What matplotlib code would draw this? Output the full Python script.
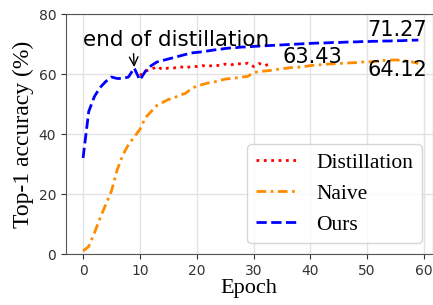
import numpy as np
import matplotlib
matplotlib.use("Agg")
from matplotlib import pyplot as plt

# values
epochs = list(range(60))
ours = [32, 47.5, 52.5, 55.5, 57.5, 59, 58.5, 58.5, 59, 62,
        58, 61, 62.8, 64, 64.5, 65, 65.5, 66, 66.5, 67,
        67.2, 67.4, 67.7, 68, 68.2, 68.5, 68.7, 68.8, 69, 69,
        69.2, 69.3, 69.4, 69.5, 69.6, 69.7, 69.8, 69.9, 70, 70.1,
        70.2, 70.3, 70.3, 70.4, 70.5, 70.5, 70.6, 70.7, 70.7, 70.8,
        70.8, 70.9, 70.9, 71, 71, 71.1, 71.1, 71.2, 71.27, 71.3]
naive = [1, 2.5, 7, 12, 16.5, 21, 28, 33, 36.5, 39,
         41.5, 45.5, 47.5, 49.5, 50.5, 51.5, 52, 53, 53.5, 55,
         56, 56.5, 57, 57.3, 57.8, 58.3, 58.5, 58.7, 59, 59.2,
         60.5, 60.8, 61, 61.2, 61.5, 61.7, 62, 62.2, 62.3, 62.5,
         62.8, 63, 63.1, 63.3, 63.4, 63.5, 63.6, 63.7, 63.8, 64,
         64, 64.1, 64.3, 64.5, 64.6, 64.7, 64.5, 64.3, 64.0, 63.5]
distill_epochs = list(range(10, 34))
distill = [59.5, 61, 61.5, 62.5, 61.5, 62, 62, 62.5, 62, 62.5,
           62.5, 62.8, 62.5, 63, 62.8, 63.3, 63, 63.5, 63.3, 63.6,
           62.5, 63.5, 62.8, 63.43]

fig = plt.figure(figsize=(4.33, 3.05), dpi=100)
ax = fig.add_axes([66 / 433, 1 - 254 / 305, (432.5 - 66) / 433, (254 - 14) / 305])

ax.plot(distill_epochs, distill, color="red", linestyle=":", linewidth=2, label="Distillation")
ax.plot(epochs, naive, color="darkorange", linestyle="-.", dashes=(3.5, 1.6, 1, 1.6),
        linewidth=2, label="Naive")
ax.plot(epochs, ours, color="blue", linestyle="--", linewidth=2, label="Ours")

ax.set_xlim(-3, 61.5)
ax.set_ylim(0, 80)
ax.set_xticks([0, 10, 20, 30, 40, 50, 60])
ax.set_yticks([0, 20, 40, 60, 80])
ax.grid(True, color="#e3e3e3", linewidth=1)
ax.set_axisbelow(True)
ax.tick_params(labelsize=10, colors="#333333", labelcolor="#333333")
for s in ax.spines.values():
    s.set_color("#555555")

ax.set_xlabel("Epoch", family="Liberation Serif", fontsize=16, labelpad=1)
ax.set_ylabel("Top-1 accuracy (%)", family="Liberation Serif", fontsize=17, labelpad=3)

# arrow drops straight down from under the text to the epoch-9 point
ax.annotate("end of distillation", xy=(9, 62.3), xytext=(0, 69.5),
            fontsize=15.5,
            arrowprops=dict(arrowstyle="->", color="black", relpos=(0.27, 0.0),
                            shrinkA=1, shrinkB=0))
ax.text(55.2, 74.7, "71.27", fontsize=15, ha="center", va="center")
ax.text(55.4, 61.3, "64.12", fontsize=15, ha="center", va="center")
ax.text(40.4, 65.7, "63.43", fontsize=15, ha="center", va="center")

ax.legend(loc="lower right", prop={"family": "Liberation Serif", "size": 15.5})

fig.savefig("out.png", dpi=100)
